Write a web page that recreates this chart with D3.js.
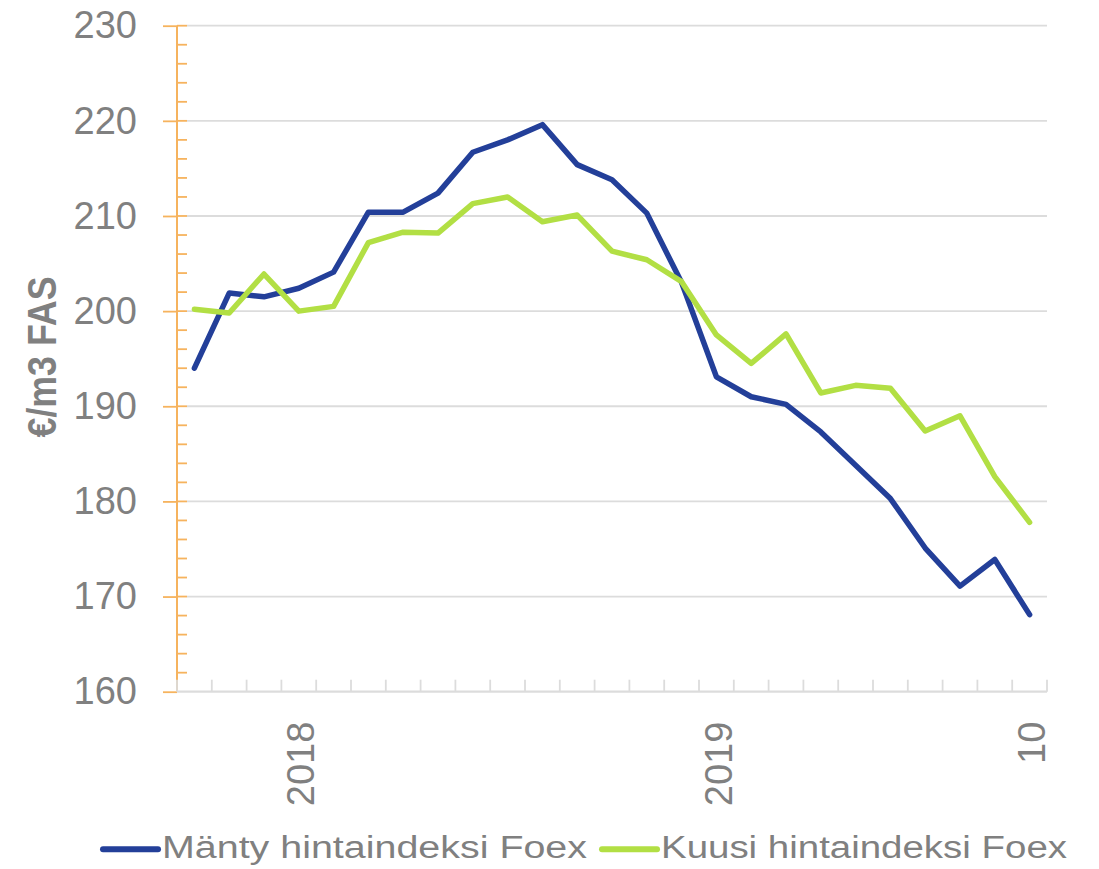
<!DOCTYPE html>
<html>
<head>
<meta charset="utf-8">
<script src="https://cdn.jsdelivr.net/npm/d3@7/dist/d3.min.js"></script>
<style>
  body { margin: 0; background: #fff; }
  text { font-family: Arial, "Liberation Sans", sans-serif; fill: #808080; }
</style>
</head>
<body>
<svg id="chart"></svg>
<script>
'use strict';

// months Oct 2017 .. Oct 2019
var months = ['2017-10', '2017-11', '2017-12', '2018-01', '2018-02', '2018-03', '2018-04',
  '2018-05', '2018-06', '2018-07', '2018-08', '2018-09', '2018-10', '2018-11', '2018-12',
  '2019-01', '2019-02', '2019-03', '2019-04', '2019-05', '2019-06', '2019-07', '2019-08',
  '2019-09', '2019-10'];
var xTickLabels = ['', '', '', '2018', '', '', '', '', '', '', '', '', '', '', '',
  '2019', '', '', '', '', '', '', '', '', '10'];

var manty = [194.0, 201.9, 201.5, 202.4, 204.1, 210.4, 210.4, 212.4, 216.7, 218.0, 219.6, 215.4,
  213.8, 210.3, 203.0, 193.1, 191.0, 190.2, 187.3, 183.8, 180.3, 175.1, 171.1, 173.9, 168.1];
var kuusi = [200.2, 199.8, 203.9, 200.0, 200.5, 207.2, 208.3, 208.2, 211.3, 212.0, 209.4, 210.1,
  206.3, 205.4, 203.1, 197.5, 194.5, 197.6, 191.4, 192.2, 191.9, 187.4, 189.0, 182.6, 177.8];

var yTicks = [160, 170, 180, 190, 200, 210, 220, 230];
var seriesNames = ['Mänty hintaindeksi Foex', 'Kuusi hintaindeksi Foex'];
var seriesColors = ['#233f99', '#b2df44'];

var canvasWidth = 1099;
var canvasHeight = 869;
var plotLeft = 177, plotRight = 1047, plotTop = 25.7, plotBottom = 691.7;

var svg = d3.select('#chart')
  .attr('width', canvasWidth)
  .attr('height', canvasHeight);

var xScale = d3.scaleBand().domain(months).range([plotLeft, plotRight]);
var yScale = d3.scaleLinear().domain([160, 230]).range([plotBottom, plotTop]);

// gridlines
svg.append('g')
  .selectAll('line')
  .data(yTicks.slice(1))
  .enter().append('line')
  .attr('x1', plotLeft + 10)
  .attr('x2', plotRight)
  .attr('y1', function(d) { return yScale(d); })
  .attr('y2', function(d) { return yScale(d); })
  .style('stroke', '#dcdcdc')
  .style('stroke-width', 1.8);

// y axis (orange, major ticks outside + minor ticks inside)
var yAxis = svg.append('g')
  .attr('transform', 'translate(' + plotLeft + ',0)')
  .call(d3.axisLeft(yScale).tickValues(yTicks).tickSize(14).tickPadding(26));
yAxis.select('.domain').remove();
yAxis.selectAll('.tick line').style('stroke', '#f6b35e').style('stroke-width', 1.8);
yAxis.selectAll('.tick text')
  .style('font-size', '38px')
  .style('font-family', 'Arial, "Liberation Sans", sans-serif')
  .attr('fill', '#808080');
yAxis.append('line')
  .attr('x1', 0).attr('x2', 0)
  .attr('y1', plotTop).attr('y2', plotBottom)
  .style('stroke', '#f6b35e')
  .style('stroke-width', 2);

var minorTicks = d3.range(160, 231, 2);
yAxis.append('g')
  .selectAll('line')
  .data(minorTicks.filter(function(d) { return d !== 160; }))
  .enter().append('line')
  .attr('x1', 0).attr('x2', 10)
  .attr('y1', function(d) { return yScale(d); })
  .attr('y2', function(d) { return yScale(d); })
  .style('stroke', '#f6b35e')
  .style('stroke-width', 1.8);

// x axis: base line, boundary ticks, labels at band centres
svg.append('line')
  .attr('x1', plotLeft).attr('x2', plotRight)
  .attr('y1', plotBottom).attr('y2', plotBottom)
  .style('stroke', '#dcdcdc')
  .style('stroke-width', 2.2);

var bounds = months.map(function(m) { return xScale(m); }).concat([plotRight]);
svg.append('g')
  .selectAll('line')
  .data(bounds)
  .enter().append('line')
  .attr('x1', function(d) { return d; })
  .attr('x2', function(d) { return d; })
  .attr('y1', plotBottom - 12)
  .attr('y2', plotBottom)
  .style('stroke', '#dcdcdc')
  .style('stroke-width', 1.8);

var xAxis = svg.append('g')
  .attr('transform', 'translate(0,' + plotBottom + ')')
  .call(d3.axisBottom(xScale).tickSize(0)
    .tickFormat(function(d, i) { return xTickLabels[i]; }));
xAxis.select('.domain').remove();
xAxis.selectAll('.tick text')
  .attr('transform', 'rotate(-90)')
  .attr('x', -30)
  .attr('y', 0)
  .attr('dy', '0.4em')
  .attr('text-anchor', 'end')
  .attr('fill', '#808080')
  .style('font-size', '38px')
  .style('font-family', 'Arial, "Liberation Sans", sans-serif');

// y axis title
svg.append('text')
  .attr('transform', 'translate(56,357) rotate(-90)')
  .attr('text-anchor', 'middle')
  .attr('textLength', 161)
  .attr('lengthAdjust', 'spacingAndGlyphs')
  .style('font-size', '40px')
  .style('font-weight', 'bold')
  .text('€/m3 FAS');

// lines
var line = d3.line()
  .x(function(d, i) { return xScale(months[i]) + xScale.bandwidth() / 2; })
  .y(function(d) { return yScale(d); });

[manty, kuusi].forEach(function(series, k) {
  svg.append('path')
    .datum(series)
    .attr('d', line)
    .style('fill', 'none')
    .style('stroke', seriesColors[k])
    .style('stroke-width', 5.5)
    .style('stroke-linejoin', 'round')
    .style('stroke-linecap', 'round');
});

// legend
var legendPos = [{ x: 103, w: 425 }, { x: 602, w: 406 }];
var legend = svg.selectAll('.legend')
  .data(seriesNames)
  .enter().append('g')
  .attr('class', 'legend')
  .attr('transform', function(d, i) { return 'translate(' + legendPos[i].x + ',0)'; });

legend.append('line')
  .attr('x1', 0).attr('x2', 55)
  .attr('y1', 849.3).attr('y2', 849.3)
  .style('stroke', function(d, i) { return seriesColors[i]; })
  .style('stroke-width', 6)
  .style('stroke-linecap', 'round');

legend.append('text')
  .attr('x', 59)
  .attr('y', 857.5)
  .attr('textLength', function(d, i) { return legendPos[i].w; })
  .attr('lengthAdjust', 'spacingAndGlyphs')
  .style('font-size', '31px')
  .text(function(d) { return d; });
</script>
</body>
</html>
